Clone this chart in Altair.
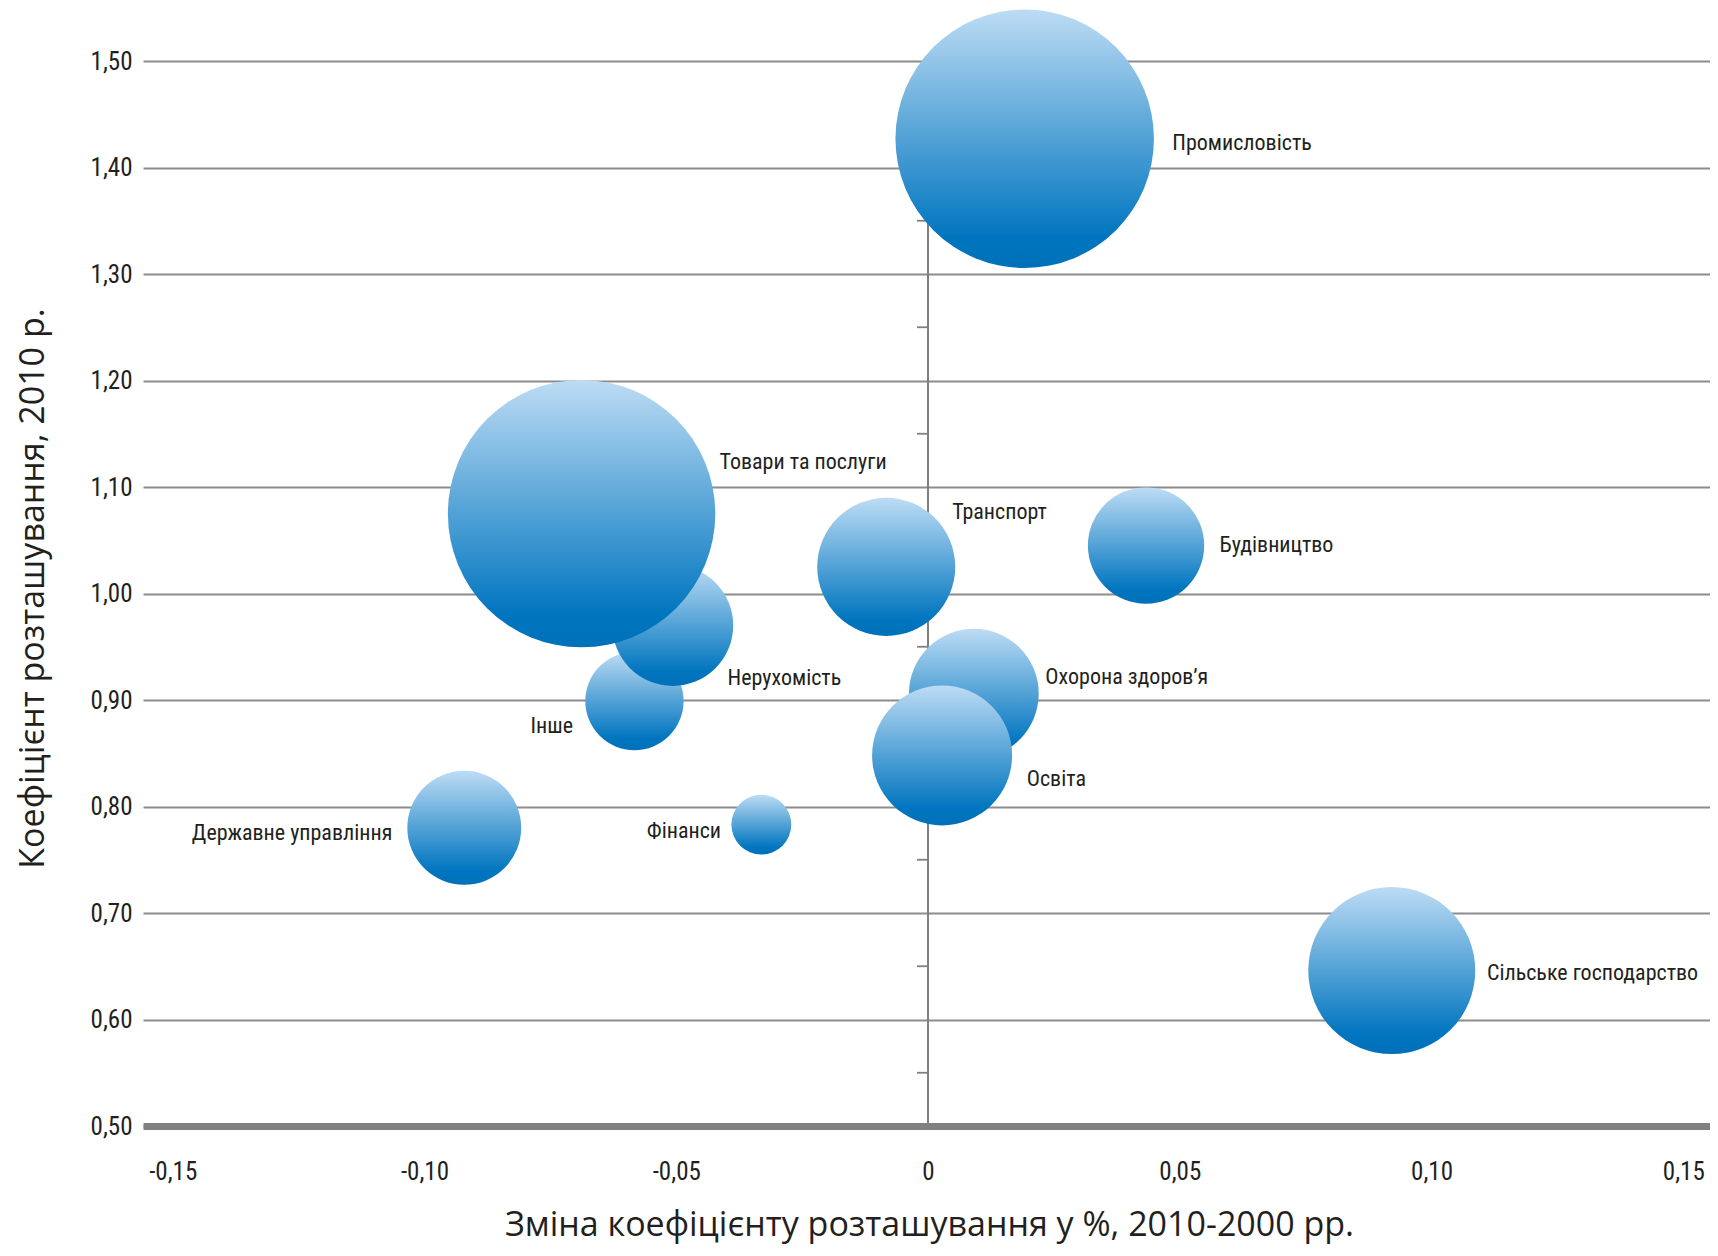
import altair as alt
import pandas as pd

# ---- data ----
sectors = ["Промисловість", "Інше", "Нерухомість", "Товари та послуги",
           "Державне управління", "Фінанси", "Транспорт", "Будівництво",
           "Охорона здоров’я", "Освіта", "Сільське господарство"]
change = [0.0192, -0.0583, -0.0507, -0.0688, -0.0921, -0.0331, -0.0083,
          0.0433, 0.0091, 0.0028, 0.0921]
coef = [1.427, 0.899, 0.970, 1.075, 0.780, 0.783, 1.025, 1.045, 0.906,
        0.848, 0.646]
share = [24.2, 3.5, 5.3, 25.9, 4.7, 1.3, 6.9, 4.9, 6.1, 7.1, 10.1]

# label anchors (data units) and on which side of the bubble the label sits
label_change = [0.0485, -0.0705, -0.0398, -0.0414, -0.1064, -0.0411, 0.0048,
                0.0579, 0.0233, 0.0196, 0.1110]
label_coef = [1.423, 0.8755, 0.921, 1.1235, 0.7747, 0.7767, 1.0761, 1.0453,
              0.9218, 0.8261, 0.644]
label_side = ["right", "left", "right", "right", "left", "left", "right",
              "right", "right", "right", "right"]

x_ticks = [-0.15, -0.10, -0.05, 0, 0.05, 0.10, 0.15]
y_ticks = [0.5, 0.6, 0.7, 0.8, 0.9, 1.0, 1.1, 1.2, 1.3, 1.4, 1.5]
zero_minor = [0.55, 0.65, 0.75, 0.85, 0.95, 1.05, 1.15, 1.25, 1.35, 1.45]

df = pd.DataFrame({"sector": sectors, "change": change, "coef": coef,
                   "share": share, "lx": label_change, "ly": label_coef,
                   "side": label_side})
minor_df = pd.DataFrame({"m": zero_minor})

LABEL_FONT = "Roboto Condensed, Noto Sans Condensed, DejaVu Sans Condensed, Roboto"
TITLE_FONT = "Open Sans"
TXT = "#231f20"
GRID = "#8c8c8c"
TICK_FS = 25
LBL_FS = 22

xscale = alt.Scale(domain=[-0.1559, 0.1553], nice=False, zero=False)
yscale = alt.Scale(domain=[y_ticks[0], y_ticks[-1]], nice=False, zero=False)

x_axis = alt.Axis(
    values=x_ticks, grid=False, ticks=False,
    domain=True, domainColor="#808080", domainWidth=7,
    labelExpr="datum.value == 0 ? '0' : replace(replace(format(datum.value, '.2f'), '.', ','), '\u2212', '-')",
    labelFont=LABEL_FONT, labelFontSize=TICK_FS, labelColor=TXT,
    labelBaseline="middle", labelPadding=45,
    title="Зміна коефіцієнту розташування у %, 2010-2000 рр.",
    titleFont=TITLE_FONT, titleFontSize=34, titleFontWeight="normal",
    titleColor=TXT, titleX=786, titleY=99, titleAlign="center",
    titleBaseline="middle",
)
y_axis = alt.Axis(
    values=y_ticks, grid=True, gridColor=GRID, gridWidth=1.8, gridOpacity=1,
    ticks=False, domain=False,
    labelExpr="replace(format(datum.value, '.2f'), '.', ',')",
    labelFont=LABEL_FONT, labelFontSize=TICK_FS, labelColor=TXT, labelPadding=11,
    title="Коефіцієнт розташування, 2010 р.",
    titleFont=TITLE_FONT, titleFontSize=34, titleFontWeight="normal",
    titleColor=TXT, titleX=-110, titleY=527, titleAngle=270,
    titleAlign="center", titleBaseline="middle",
)

base = alt.Chart(df)

axes_layer = base.mark_point(opacity=0).encode(
    x=alt.X("change:Q", scale=xscale, axis=x_axis),
    y=alt.Y("coef:Q", scale=yscale, axis=y_axis),
)

zero_line = alt.Chart(df).mark_rule(color="#808080", strokeWidth=1.8).encode(
    x=alt.datum(0), y=alt.datum(y_ticks[0]), y2=alt.datum(y_ticks[-1])
)

zero_ticks = alt.Chart(minor_df).mark_rule(
    color="#808080", strokeWidth=1.8, xOffset=-11
).encode(x=alt.datum(0), x2=alt.datum(0), y=alt.Y("m:Q"))

gradient = alt.LinearGradient(
    gradient="linear", x1=0, x2=0, y1=0, y2=1,
    stops=[alt.GradientStop(color="#bddcf4", offset=0),
           alt.GradientStop(color="#0075bf", offset=0.88),
           alt.GradientStop(color="#0071b9", offset=1)],
)

bubbles = base.mark_circle(opacity=1, color=gradient, strokeWidth=0).encode(
    x=alt.X("change:Q"),
    y=alt.Y("coef:Q"),
    size=alt.Size("share:Q", scale=alt.Scale(domain=[0, 25.9], range=[0, 71500]),
                  legend=None),
    order=alt.Order("idx:Q"),
).transform_window(idx="row_number()")

labels_r = base.transform_filter(alt.datum.side == "right").mark_text(
    align="left", baseline="middle", font=LABEL_FONT, fontSize=LBL_FS, color=TXT
).encode(x="lx:Q", y="ly:Q", text="sector:N")

labels_l = base.transform_filter(alt.datum.side == "left").mark_text(
    align="right", baseline="middle", font=LABEL_FONT, fontSize=LBL_FS, color=TXT
).encode(x="lx:Q", y="ly:Q", text="sector:N")

chart = alt.layer(axes_layer, zero_line, zero_ticks, bubbles, labels_r, labels_l).properties(
    width=1567, height=1065,
    autosize=alt.AutoSizeParams(type="none"),
    padding={"left": 135, "top": 53, "right": 0, "bottom": 122},
    background="white",
).configure_view(stroke=None)

chart.save("out.html", embed_options={"renderer": "svg", "actions": False})
